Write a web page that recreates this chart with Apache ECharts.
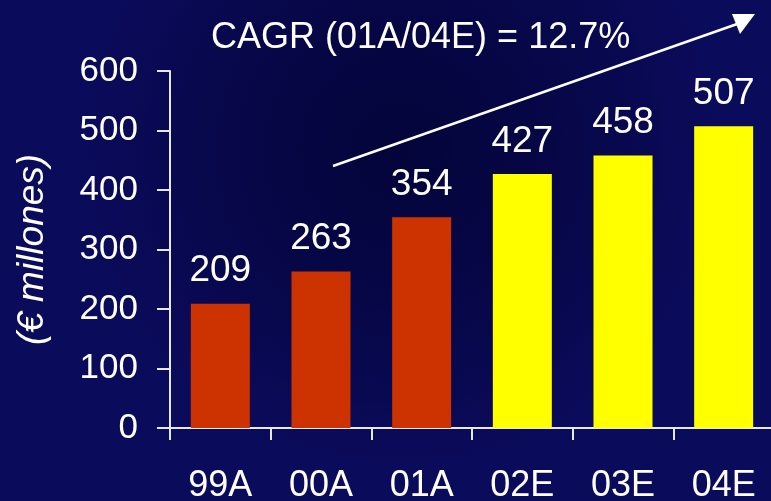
<!DOCTYPE html>
<html>
<head>
<meta charset="utf-8">
<script src="https://cdn.jsdelivr.net/npm/echarts@6/dist/echarts.min.js"></script>
<style>
  html, body { margin: 0; padding: 0; background: #0a0a56; }
  #chart { width: 771px; height: 501px; }
</style>
</head>
<body>
<div id="chart"></div>
<script>
// Revenue by year, actual (A) and estimated (E)
const categories = ['99A', '00A', '01A', '02E', '03E', '04E'];
const revenue = [209, 263, 354, 427, 458, 507];
const isEstimate = [false, false, false, true, true, true];
const yTicks = { min: 0, max: 600, interval: 100 };
const growthNote = 'CAGR (01A/04E) = 12.7%';
const unitLabel = '(€ millones)';

const FONT = '"Liberation Sans", Arial, sans-serif';
const ACTUAL_COLOR = '#cc3300';
const ESTIMATE_COLOR = '#ffff00';
const AXIS_COLOR = '#e8e8f0';

const chart = echarts.init(document.getElementById('chart'), null, { renderer: 'canvas' });

chart.setOption({
  backgroundColor: {
    type: 'radial', x: 0.52, y: 0.3, r: 0.65,
    colorStops: [
      { offset: 0, color: '#04043a' },
      { offset: 0.55, color: '#07074a' },
      { offset: 1, color: '#0b0b5c' }
    ]
  },
  animation: false,
  textStyle: { fontFamily: FONT },
  grid: {
    left: 170, top: 71, width: 604, height: 357,
    containLabel: false, outerBoundsMode: 'none'
  },
  xAxis: {
    type: 'category',
    data: categories,
    boundaryGap: true,
    axisLine: { lineStyle: { color: AXIS_COLOR, width: 2 } },
    axisTick: { show: true, length: 12, inside: false, lineStyle: { color: AXIS_COLOR, width: 2 } },
    axisLabel: { color: '#ffffff', fontSize: 36, fontFamily: FONT, margin: 40 }
  },
  yAxis: {
    type: 'value',
    min: yTicks.min, max: yTicks.max, interval: yTicks.interval,
    name: unitLabel,
    nameLocation: 'middle',
    nameRotate: 90,
    nameGap: 119,
    nameTextStyle: { color: '#ffffff', fontSize: 37, fontStyle: 'italic', fontFamily: FONT },
    axisLine: { show: true, lineStyle: { color: AXIS_COLOR, width: 2 } },
    axisTick: { show: true, length: 13, lineStyle: { color: AXIS_COLOR, width: 2 } },
    splitLine: { show: false },
    axisLabel: { color: '#ffffff', fontSize: 35, fontFamily: FONT, margin: 32 }
  },
  series: [{
    type: 'bar',
    barWidth: 59,
    data: revenue.map((v, i) => ({
      value: v,
      itemStyle: { color: isEstimate[i] ? ESTIMATE_COLOR : ACTUAL_COLOR }
    })),
    label: {
      show: true,
      position: 'top',
      distance: 14,
      color: '#ffffff',
      fontSize: 37,
      fontFamily: FONT
    }
  }],
  graphic: [
    {
      type: 'text',
      left: 211, top: 20,
      style: { text: growthNote, fill: '#ffffff', font: '36px ' + FONT }
    },
    {
      type: 'line',
      shape: { x1: 333, y1: 166, x2: 740, y2: 23 },
      style: { stroke: '#ffffff', lineWidth: 2.5 }
    },
    {
      type: 'polygon',
      shape: { points: [[755, 14], [732, 14], [740, 34]] },
      style: { fill: '#ffffff' }
    }
  ]
});
</script>
</body>
</html>
